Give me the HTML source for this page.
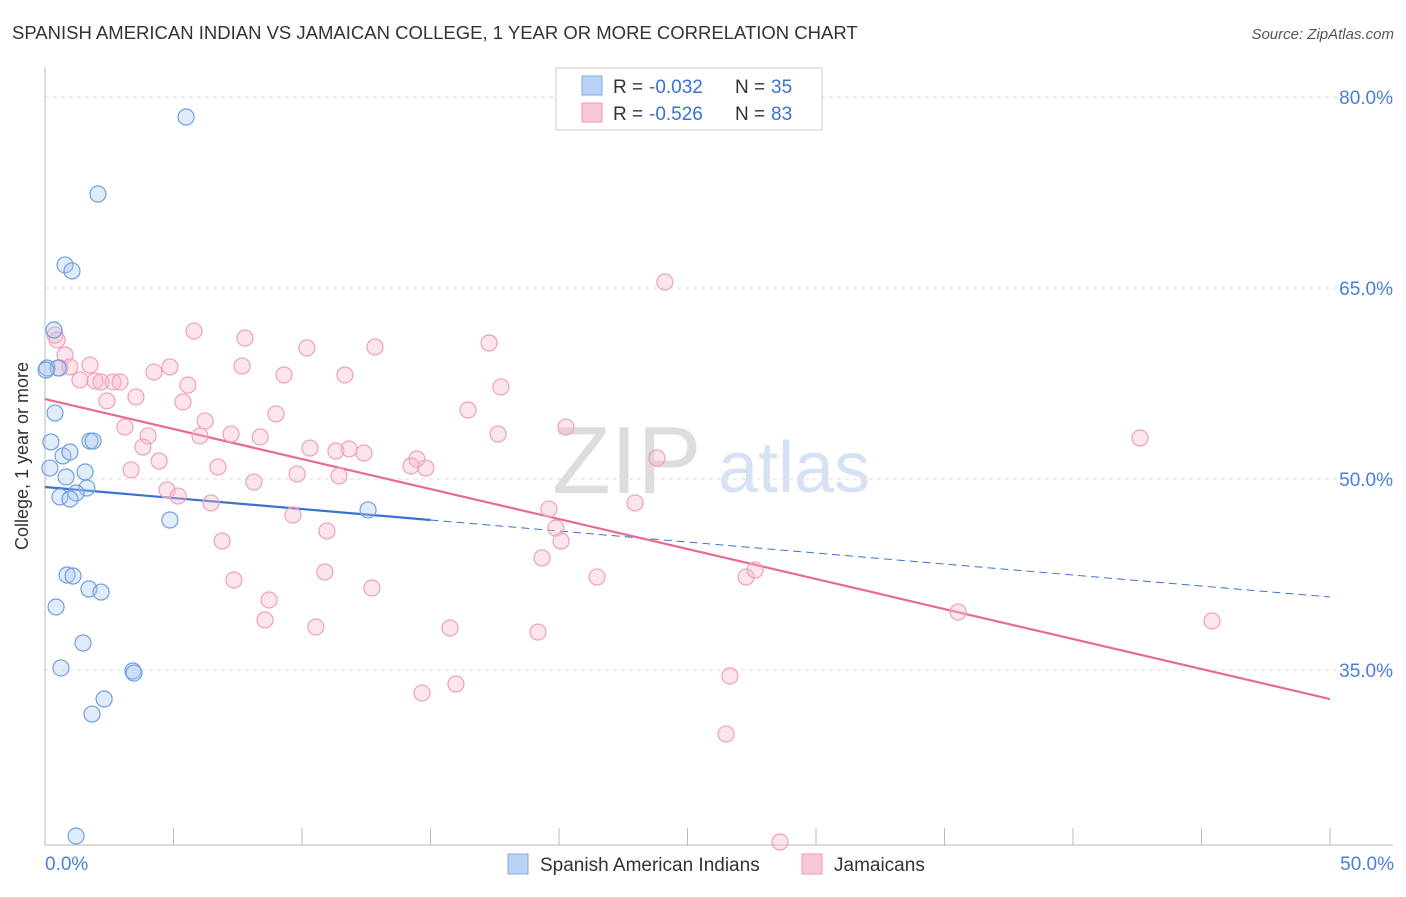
<!DOCTYPE html>
<html><head><meta charset="utf-8">
<style>
body{margin:0;background:#fff;font-family:"Liberation Sans",sans-serif;}
svg text{font-family:"Liberation Sans",sans-serif;}
</style></head>
<body>
<svg id="chart" width="1406" height="892">
<text x="12" y="39" font-size="18.5" fill="#333">SPANISH AMERICAN INDIAN VS JAMAICAN COLLEGE, 1 YEAR OR MORE CORRELATION CHART</text>
<text x="1394" y="39" font-size="15" fill="#555" font-style="italic" text-anchor="end">Source: ZipAtlas.com</text>
<g>
<text x="552" y="493" font-size="96" fill="#ddd" font-family="Liberation Serif">ZIP</text>
<text x="718" y="492" font-size="72" fill="#d6e2f3">atlas</text>
</g>
<g id="grid"></g>
<g id="axes"></g>
<g id="lines"></g>
<g id="points"></g>
<text x="28" y="456" font-size="18" fill="#333" text-anchor="middle" transform="rotate(-90 28 456)">College, 1 year or more</text>
<g>
<rect x="556" y="68" width="266" height="62" fill="#fff" stroke="#ccc"/>
<rect x="582" y="76" width="20" height="19" fill="#b8d3f3" stroke="#7fa8dd"/>
<rect x="582" y="103" width="20" height="19" fill="#f9c8d6" stroke="#eb9ab2"/>
<text x="613" y="93" font-size="19" fill="#333">R =</text>
<text x="649" y="93" font-size="19" fill="#3a72d0">-0.032</text>
<text x="735" y="93" font-size="19" fill="#333">N =</text>
<text x="771" y="93" font-size="19" fill="#3a72d0">35</text>
<text x="613" y="120" font-size="19" fill="#333">R =</text>
<text x="649" y="120" font-size="19" fill="#3a72d0">-0.526</text>
<text x="735" y="120" font-size="19" fill="#333">N =</text>
<text x="771" y="120" font-size="19" fill="#3a72d0">83</text>
</g>
<g>
<rect x="508" y="854" width="20" height="20" fill="#b8d3f3" stroke="#7fa8dd"/>
<text x="540" y="871" font-size="19" fill="#333">Spanish American Indians</text>
<rect x="802" y="854" width="20" height="20" fill="#f9c8d6" stroke="#eb9ab2"/>
<text x="834" y="871" font-size="19" fill="#333">Jamaicans</text>
</g>
</svg>
<script>
const yTicks=[35,50,65,80];
const yTickLabels=["35.0%","50.0%","65.0%","80.0%"];
const xTicks=[0,5,10,15,20,25,30,35,40,45,50];
const xEndLabels=["0.0%","50.0%"];
const blueX=[5.49,2.06,0.78,1.05,0.35,0.08,0.51,0.39,0.23,1.75,1.87,0.70,0.97,0.19,1.56,0.82,1.63,1.21,0.58,0.97,4.86,12.57,0.86,1.09,1.71,2.18,0.43,1.48,0.62,3.42,3.46,2.30,1.83,1.21,0.04];
const blueY=[78.43,72.38,66.81,66.34,61.70,58.72,58.72,55.18,52.91,52.98,52.98,51.81,52.12,50.86,50.55,50.16,49.29,48.90,48.59,48.43,46.78,47.57,42.46,42.38,41.36,41.12,39.95,37.12,35.16,34.92,34.76,32.72,31.54,21.96,58.56];
const pinkX=[0.39,0.47,0.78,1.75,0.97,0.58,1.36,1.95,2.18,2.65,2.92,2.41,3.54,5.80,7.78,4.86,4.24,7.67,5.56,5.37,10.19,12.84,17.28,9.30,11.67,17.74,8.99,6.23,3.11,4.01,6.03,7.24,8.37,3.81,4.44,10.31,11.83,12.41,11.32,3.35,6.73,9.81,11.44,14.47,14.24,14.82,16.46,17.63,20.27,23.81,24.12,42.61,8.13,4.75,5.18,6.46,9.65,10.97,6.89,19.61,19.88,20.08,22.96,19.34,7.35,8.72,10.89,12.72,21.48,27.28,27.63,8.56,10.54,15.76,19.18,35.53,45.41,14.67,15.99,26.65,26.50,28.60];
const pinkY=[61.31,60.92,59.74,58.95,58.80,58.72,57.78,57.70,57.62,57.62,57.62,56.13,56.44,61.62,61.07,58.80,58.40,58.87,57.38,56.05,60.29,60.37,60.68,58.17,58.17,57.23,55.11,54.56,54.08,53.38,53.38,53.53,53.30,52.51,51.41,52.43,52.36,52.04,52.20,50.71,50.94,50.39,50.24,51.57,51.02,50.86,55.42,53.53,54.08,51.65,65.47,53.22,49.76,49.14,48.66,48.12,47.17,45.92,45.13,47.64,46.15,45.13,48.12,43.80,42.07,40.50,42.70,41.44,42.30,42.30,42.85,38.93,38.38,38.30,37.98,39.55,38.85,33.19,33.90,34.53,29.97,21.49];
const blueTrend=[49.37,40.73];
const pinkTrend=[56.28,32.72];
const blueSolidEnd=15;

const NS="http://www.w3.org/2000/svg";
const X=v=>45+v/50*1285;
const Y=v=>479-(v-50)*12.733;
function mk(tag,attrs,parent){const e=document.createElementNS(NS,tag);for(const k in attrs)e.setAttribute(k,attrs[k]);parent.appendChild(e);return e;}
const grid=document.getElementById('grid'),axes=document.getElementById('axes'),lines=document.getElementById('lines'),pts=document.getElementById('points');
yTicks.forEach((t,i)=>{
 const l=mk('line',{x1:45,x2:1393,y1:Y(t),y2:Y(t),stroke:'#ddd','stroke-dasharray':'4,4'},grid);
 
 
 const tx=mk('text',{x:1393,y:Y(t)+7,'font-size':19,fill:'#4a7fd4','text-anchor':'end'},axes);
 tx.textContent=yTickLabels[i];
 
 
});
const ax=mk('line',{x1:45,x2:45,y1:67,y2:845,stroke:'#bbb'},axes);


const bx=mk('line',{x1:45,x2:1393,y1:845,y2:845,stroke:'#bbb'},axes);


xTicks.forEach(t=>{
 const l=mk('line',{x1:X(t),x2:X(t),y1:828,y2:845,stroke:'#bbb'},axes);
 
 
});
[[0,'start'],[50,'end']].forEach((p,i)=>{
 const tx=mk('text',{x:i?1394:45,y:870,'font-size':19,fill:'#4a7fd4','text-anchor':p[1]},axes);
 tx.textContent=xEndLabels[i];
 
 
});
function drawPts(xs,ys,fill,stroke,name){
 xs.forEach((x,i)=>{
  const c=mk('circle',{cx:X(x),cy:Y(ys[i]),r:8,fill:fill,stroke:stroke,'stroke-width':1.2},pts);
  
  
 });
}
drawPts(pinkX,pinkY,'rgba(248,180,200,0.35)','#eea0b8','jamaican-point');
drawPts(blueX,blueY,'rgba(170,200,240,0.35)','#6f9ee0','spanish-american-indian-point');
const bt=v=>blueTrend[0]+(blueTrend[1]-blueTrend[0])*v/50;
const pt=v=>pinkTrend[0]+(pinkTrend[1]-pinkTrend[0])*v/50;
const l1=mk('line',{x1:X(0),y1:Y(bt(0)),x2:X(blueSolidEnd),y2:Y(bt(blueSolidEnd)),stroke:'#3a72d0','stroke-width':2.2},lines);


const l2=mk('line',{x1:X(blueSolidEnd),y1:Y(bt(blueSolidEnd)),x2:X(50),y2:Y(bt(50)),stroke:'#3a72d0','stroke-width':1,'stroke-dasharray':'8,5'},lines);


const l3=mk('line',{x1:X(0),y1:Y(pt(0)),x2:X(50),y2:Y(pt(50)),stroke:'#e86a94','stroke-width':2.2},lines);


</script>
</body></html>
